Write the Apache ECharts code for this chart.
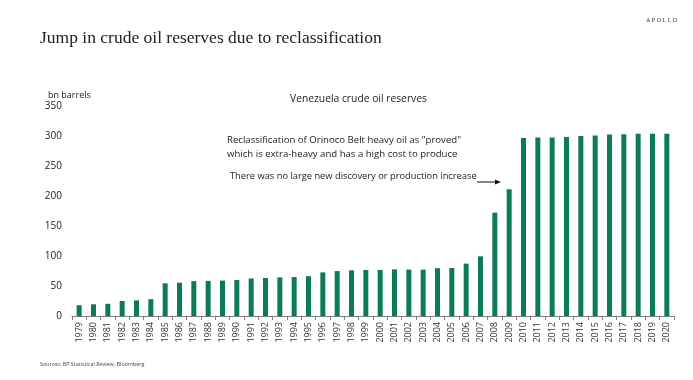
<!DOCTYPE html>
<html>
<head>
<meta charset="utf-8">
<script src="https://cdn.jsdelivr.net/npm/echarts@6/dist/echarts.min.js"></script>
<style>
html,body{margin:0;padding:0;background:#fff;}
#c{width:693px;height:380px;}
</style>
</head>
<body>
<div id="c"></div>
<script>
var years = ['1979','1980','1981','1982','1983','1984','1985','1986','1987','1988','1989','1990','1991','1992','1993','1994','1995','1996','1997','1998','1999','2000','2001','2002','2003','2004','2005','2006','2007','2008','2009','2010','2011','2012','2013','2014','2015','2016','2017','2018','2019','2020'];
var reserves = [18.0,19.5,20.3,25.0,26.0,28.0,54.5,55.5,58.1,58.5,59.0,60.1,62.6,63.3,64.4,64.9,66.3,72.7,74.9,76.1,76.8,76.8,77.7,77.3,77.2,79.7,80.0,87.3,99.4,172.3,211.2,296.5,297.6,297.7,298.3,300.0,300.9,302.3,302.8,303.8,303.8,303.8];
var yTicks = [0,50,100,150,200,250,300,350];

var chart = echarts.init(document.getElementById('c'), null, {renderer:'canvas'});
var sans = 'Open Sans';
chart.setOption({
  animation:false,
  backgroundColor:'#fff',
  grid:{left:72,right:19,top:106,bottom:64,containLabel:false},
  xAxis:{
    type:'category',
    data:years,
    boundaryGap:true,
    axisLine:{show:true,lineStyle:{color:'#7f7f7f',width:1}},
    axisTick:{show:true,alignWithLabel:false,length:4,lineStyle:{color:'#7f7f7f'}},
    axisLabel:{rotate:90,fontSize:9,color:'#333',fontFamily:sans,margin:6,interval:0}
  },
  yAxis:{
    type:'value',
    min:yTicks[0],max:yTicks[yTicks.length-1],interval:50,
    axisLine:{show:false},axisTick:{show:false},
    splitLine:{show:false},
    axisLabel:{fontSize:10,color:'#222',fontFamily:sans,margin:10}
  },
  series:[{
    type:'bar',
    data:reserves,
    barWidth:5,
    itemStyle:{color:'#0b7a5b'}
  }],
  graphic:[
    {type:'text',left:40,top:29,style:{text:'Jump in crude oil reserves due to reclassification',font:'17.5px "Liberation Serif"',fill:'#222'}},
    {type:'text',left:646,top:17,style:{text:'A P O L L O',font:'6px "Liberation Serif"',fill:'#333'}},
    {type:'text',left:48,top:91,style:{text:'bn barrels',font:'9px "Open Sans"',fill:'#222'}},
    {type:'text',left:290,top:94,style:{text:'Venezuela crude oil reserves',font:'10.3px "Open Sans"',fill:'#222'}},
    {type:'text',left:227,top:135,style:{text:'Reclassification of Orinoco Belt heavy oil as "proved"',font:'9.6px "Open Sans"',fill:'#222'}},
    {type:'text',left:227,top:149,style:{text:'which is extra-heavy and has a high cost to produce',font:'9.6px "Open Sans"',fill:'#222'}},
    {type:'text',left:230,top:172,style:{text:'There was no large new discovery or production increase',font:'9.3px "Open Sans"',fill:'#222'}},
    {type:'line',shape:{x1:477,y1:182,x2:496,y2:182},style:{stroke:'#111',lineWidth:1}},
    {type:'polygon',shape:{points:[[501,182],[495,179.5],[495,184.5]]},style:{fill:'#111'}},
    {type:'text',left:40,top:362,style:{text:'Sources: BP Statistical Review, Bloomberg',font:'5.4px "Open Sans"',fill:'#444'}}
  ]
});
</script>
</body>
</html>
